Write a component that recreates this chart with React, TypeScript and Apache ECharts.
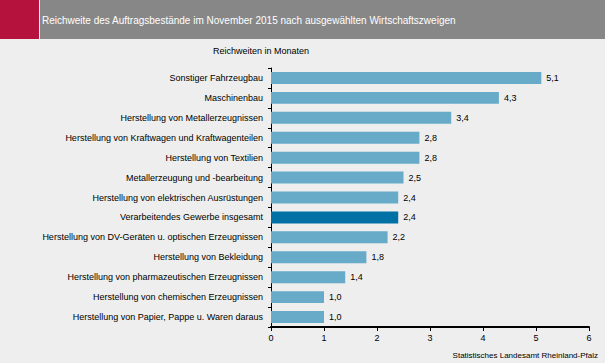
import React, { useEffect, useRef } from "react";
import * as echarts from "echarts";

const categories = [
  "Sonstiger Fahrzeugbau",
  "Maschinenbau",
  "Herstellung von Metallerzeugnissen",
  "Herstellung von Kraftwagen und Kraftwagenteilen",
  "Herstellung von Textilien",
  "Metallerzeugung und -bearbeitung",
  "Herstellung von elektrischen Ausrüstungen",
  "Verarbeitendes Gewerbe insgesamt",
  "Herstellung von DV-Geräten u. optischen Erzeugnissen",
  "Herstellung von Bekleidung",
  "Herstellung von pharmazeutischen Erzeugnissen",
  "Herstellung von chemischen Erzeugnissen",
  "Herstellung von Papier, Pappe u. Waren daraus",
];
const values = [5.1, 4.3, 3.4, 2.8, 2.8, 2.5, 2.4, 2.4, 2.2, 1.8, 1.4, 1.0, 1.0];
const highlightCategory = "Verarbeitendes Gewerbe insgesamt";
const xTicks = [0, 1, 2, 3, 4, 5, 6];

const titleText = "Reichweite des Auftragsbestände im November 2015 nach ausgewählten Wirtschaftszweigen";
const subtitleText = "Reichweiten in Monaten";
const sourceText = "Statistisches Landesamt Rheinland-Pfalz";

export default function App() {
  const ref = useRef<HTMLDivElement>(null);
  useEffect(() => {
    if (!ref.current) return;
    const chart = echarts.init(ref.current, undefined, { renderer: "svg" });
    const font = "Liberation Sans, Arial, sans-serif";
    chart.setOption({
      animation: false,
      backgroundColor: "#EDEEED",
      textStyle: { fontFamily: font },
      graphic: [
        { type: "rect", shape: { x: 0, y: 0, width: 39, height: 39 }, style: { fill: "#B5123E" } },
        { type: "rect", shape: { x: 40, y: 0, width: 565, height: 39 }, style: { fill: "#878787" } },
        {
          type: "text",
          x: 42,
          y: 20,
          style: { text: titleText, fill: "#FFFFFF", font: `10px ${font}`, verticalAlign: "middle" },
        },
        {
          type: "text",
          x: 261,
          y: 51,
          style: { text: subtitleText, fill: "#000000", font: `9px ${font}`, align: "center", verticalAlign: "middle" },
        },
        {
          type: "text",
          x: 598,
          y: 355,
          style: { text: sourceText, fill: "#000000", font: `8px ${font}`, align: "right", verticalAlign: "middle" },
        },
      ],
      grid: { left: 271, right: 16, top: 68, bottom: 36, containLabel: false },
      xAxis: {
        type: "value",
        min: xTicks[0],
        max: xTicks[xTicks.length - 1],
        interval: 1,
        axisLine: { show: true, lineStyle: { color: "#000", width: 2 } },
        axisTick: { show: true, length: 4, lineStyle: { color: "#000" } },
        axisLabel: { color: "#000", fontSize: 9, margin: 6 },
        splitLine: { show: false },
      },
      yAxis: {
        type: "category",
        inverse: true,
        data: categories,
        axisLine: { show: true, lineStyle: { color: "#000", width: 1 } },
        axisTick: { show: true, length: 3, lineStyle: { color: "#000" } },
        axisLabel: { color: "#000", fontSize: 9, margin: 8 },
      },
      series: [
        {
          type: "bar",
          barWidth: "60%",
          data: categories.map((c, i) => ({
            value: values[i],
            itemStyle: { color: c === highlightCategory ? "#0071A4" : "#67ABC9" },
          })),
          label: {
            show: true,
            position: "right",
            distance: 5,
            color: "#000",
            fontSize: 9,
            formatter: (p: any) => p.value.toFixed(1).replace(".", ","),
          },
        },
      ],
    });
    return () => chart.dispose();
  }, []);
  return <div ref={ref} style={{ width: 605, height: 363, position: "absolute", left: 0, top: 0 }} />;
}
